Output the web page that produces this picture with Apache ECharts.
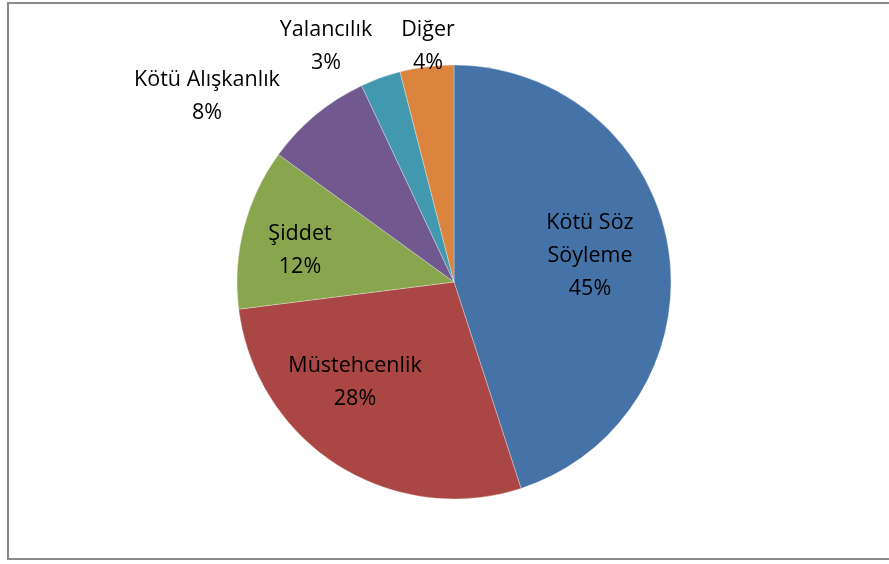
<!DOCTYPE html>
<html>
<head>
<meta charset="utf-8">
<script src="https://cdn.jsdelivr.net/npm/echarts@6/dist/echarts.min.js"></script>
<style>
  html, body { margin: 0; padding: 0; background: #fff; overflow: hidden; }
  #frame {
    position: absolute; left: 7px; top: 2px; width: 900px; height: 558px;
    border: 2px solid #8a8a8a; border-right: none; box-sizing: border-box;
  }
  #chart { position: absolute; left: 0; top: 0; width: 889px; height: 564px; }
</style>
</head>
<body>
<div id="frame"></div>
<div id="chart"></div>
<script>
// categories and values, clockwise from 12 o'clock
const categories = ['Kötü Söz Söyleme', 'Müstehcenlik', 'Şiddet', 'Kötü Alışkanlık', 'Yalancılık', 'Diğer']
const values = [45, 28, 12, 8, 3, 4]

const colors = ['#4572A7', '#AA4643', '#89A54E', '#71588F', '#4198AF', '#DB843D']
// where Excel put each label (centre of the text block)
const labelSpots = [[590, 256], [355, 382], [300, 250], [207, 96], [326, 46], [428, 46]]

const chart = echarts.init(document.getElementById('chart'))

const option = {
  animation: false,
  color: colors,
  series: [{
    type: 'pie',
    center: [454, 282],
    radius: 217,
    startAngle: 90,
    clockwise: true,
    itemStyle: {
      borderColor: 'rgba(255,255,255,0.5)',
      borderWidth: 0.6
    },
    label: {
      show: true,
      position: 'inside',
      formatter: p => (p.dataIndex === 0 ? 'Kötü Söz\nSöyleme' : p.name) + '\n' + p.value + '%',
      fontFamily: 'Open Sans',
      fontSize: 21.5,
      lineHeight: 33,
      color: '#000',
      align: 'center'
    },
    labelLine: { show: false },
    labelLayout: params => {
      const spot = labelSpots[params.dataIndex]
      return {
        x: spot[0],
        y: spot[1],
        align: 'center',
        verticalAlign: 'middle'
      }
    },
    data: categories.map((name, i) => ({ name: name, value: values[i] }))
  }]
}

chart.setOption(option)
</script>
</body>
</html>
